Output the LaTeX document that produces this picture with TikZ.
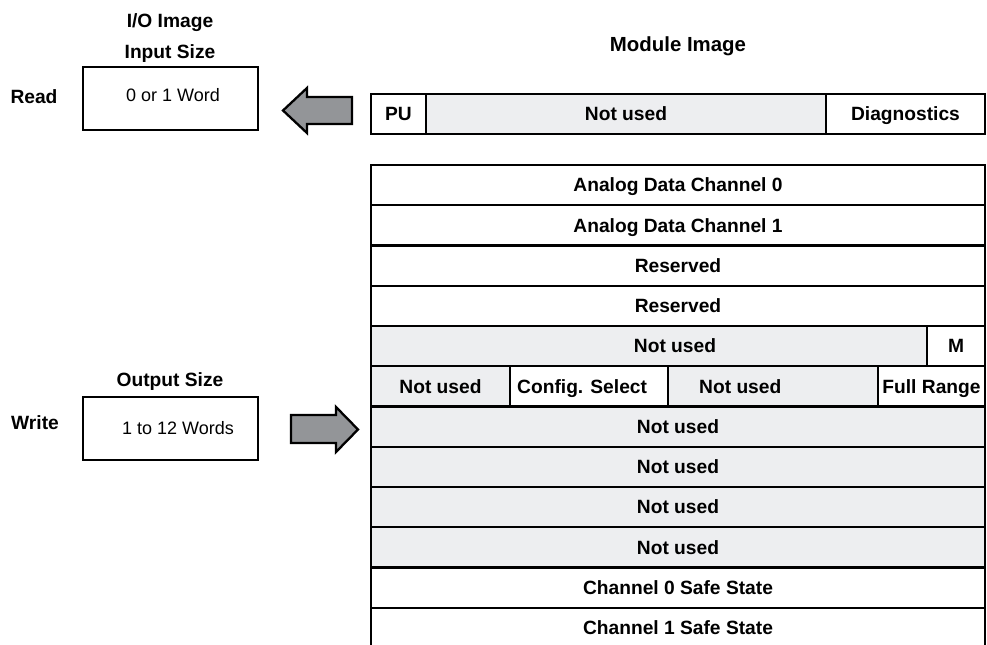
\documentclass[tikz,border=0pt]{standalone}
\usepackage{xcolor}
\usepackage{fontspec}
\setmainfont{Liberation Sans}
\usepackage{tikz}
\usetikzlibrary{positioning,calc}

\definecolor{unusedgray}{RGB}{237,238,240}
\definecolor{arrowgray}{RGB}{147,149,152}
\newcommand{\cellfont}{\fontsize{19.2bp}{21bp}\selectfont\bfseries}
\newcommand{\plainfont}{\fontsize{18bp}{21bp}\selectfont}

\tikzset{
  cell/.style={draw,line width=2.3bp,fill=white,minimum height=40.25bp,inner sep=0pt,outer sep=0pt,
    font=\cellfont,text height=13.7bp,text depth=0pt},
  unused/.style={cell,fill=unusedgray},
  sizebox/.style={draw,line width=2.3bp,minimum width=175bp,minimum height=63bp,inner sep=0pt},
  caption/.style={font=\cellfont,inner sep=0pt,text height=13.7bp,text depth=0pt},
  fatarrow/.style={draw,line width=2.3bp,fill=arrowgray,line join=miter}
}

\begin{document}
\begin{tikzpicture}[x=1bp,y=-1bp]
			\useasboundingbox (0,0) rectangle (987,645);
			% left side: I/O image
			\node[caption] (iotitle) at (170,21) {I/O Image};
			\node[caption] (insize) at (170,52) {Input Size};
			\node[sizebox] (rdbox) at (170.5,98.5) {};
			\node[font=\plainfont,inner sep=0pt,text height=13bp,text depth=0pt] (rdtxt) at (173,95) {0 or 1 Word};
			\node[caption] (read) at (34,97) {Read};
			\node[caption] (outsize) at (170,380) {Output Size};
			\node[sizebox] (wrbox) at (170.5,428.5) {};
			\node[font=\plainfont,inner sep=0pt,text height=13bp,text depth=0pt] (wrtxt) at (178,428) {1 to 12 Words};
			\node[caption] (write) at (35,423) {Write};
			% fat arrows
			\coordinate (rdtip) at (283,110.5);
			\draw[fatarrow] (rdtip) -- ++(24,-22.5) -- ++(0,9) -- ++(45,0) -- ++(0,27) -- ++(-45,0) -- ++(0,9) -- cycle;
			\coordinate (wrtip) at (358,429.5);
			\draw[fatarrow] (wrtip) -- ++(-22,-22.5) -- ++(0,8) -- ++(-45,0) -- ++(0,28) -- ++(45,0) -- ++(0,9) -- cycle;
			% module image
			\node[caption,font=\fontsize{20.4bp}{22bp}\selectfont\bfseries] (modtitle) at (678,45) {Module Image};
			\node[cell,minimum width=55bp,minimum height=40bp] (pu) at (398.5,114) {PU};
			\node[unused,minimum width=400bp,minimum height=40bp] (inunused) at (626,114) {Not used};
			\node[cell,minimum width=159bp,minimum height=40bp] (diag) at (905.5,114) {Diagnostics};
			\foreach \k/\sty/\txt in {0/cell/Analog Data Channel 0,1/cell/Analog Data Channel 1,2/cell/Reserved,3/cell/Reserved,
				6/unused/Not used,7/unused/Not used,8/unused/Not used,9/unused/Not used,
				10/cell/Channel 0 Safe State,11/cell/Channel 1 Safe State}{
					\node[\sty,minimum width=614bp] (row\k) at (678,{165+40.25*(\k+0.5)}) {\txt};
				}
			\node[unused,minimum width=556bp] (row4) at (649,346.1) {};
			\node[caption] (row4txt) at (675,346.1) {Not used};
			\node[cell,minimum width=58bp] (mbit) at (956,346.1) {M};
			\node[unused,minimum width=139bp] (row5a) at (440.5,386.4) {Not used};
			\node[cell,minimum width=158bp] (cfgsel) at (589,386.4) {};
			\node[caption,anchor=west] (cfgtxt) at (517,386.4) {Config. Select};
			\node[unused,minimum width=210bp] (row5b) at (773,386.4) {};
			\node[caption,anchor=west] (row5btxt) at (699,386.4) {Not used};
			\node[cell,minimum width=107bp] (fullrng) at (931.5,386.4) {Full Range};
		\end{tikzpicture}
\end{document}
